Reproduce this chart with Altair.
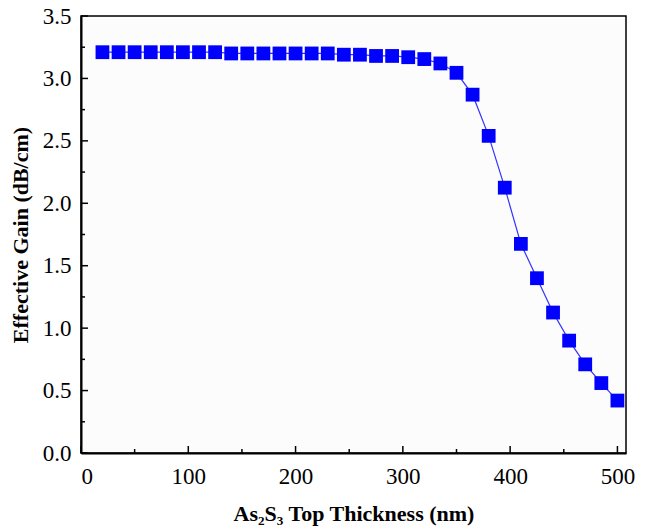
import altair as alt
import pandas as pd

# As2S3 top-layer thickness (nm) and the resulting effective gain (dB/cm)
thickness = [20, 35, 50, 65, 80, 95, 110, 125, 140, 155, 170, 185, 200,
             215, 230, 245, 260, 275, 290, 305, 320, 335, 350, 365, 380,
             395, 410, 425, 440, 455, 470, 485, 500]
gain = [3.21, 3.21, 3.21, 3.21, 3.21, 3.21, 3.21, 3.21, 3.20, 3.20, 3.20, 3.20, 3.20,
        3.20, 3.20, 3.19, 3.19, 3.18, 3.18, 3.17, 3.155, 3.12, 3.045, 2.87, 2.54,
        2.125, 1.675, 1.40, 1.125, 0.90, 0.71, 0.56, 0.42]

x_major = [0, 100, 200, 300, 400, 500]
x_minor = [50, 150, 250, 350, 450]
y_major = [0.0, 0.5, 1.0, 1.5, 2.0, 2.5, 3.0, 3.5]
y_minor = [0.25, 0.75, 1.25, 1.75, 2.25, 2.75, 3.25]

W, H = 545, 437
FONT = "Liberation Serif"
BLUE = "#0000ff"

df = pd.DataFrame({"t": thickness, "g": gain})
xs = alt.Scale(domain=[0, 508], nice=False, zero=False)
ys = alt.Scale(domain=[0, 3.5], nice=False)

x_axis = alt.Axis(values=x_major, format="d", ticks=False, grid=False,
                  labelFont=FONT, labelFontSize=23, labelColor="black",
                  labelPadding=12, domainColor="black", domainWidth=2,
                  title="As₂S₃ Top Thickness (nm)", titleFont=FONT,
                  titleFontSize=22, titleFontWeight="bold", titleColor="black",
                  titlePadding=15)
y_axis = alt.Axis(values=y_major, format=".1f", ticks=False, grid=False,
                  labelFont=FONT, labelFontSize=23, labelColor="black",
                  labelPadding=10, domainColor="black", domainWidth=2,
                  title="Effective Gain (dB/cm)", titleFont=FONT,
                  titleFontSize=22, titleFontWeight="bold", titleColor="black",
                  titlePadding=10)

base = alt.Chart(df)
line = base.mark_line(color="#3333ff", strokeWidth=1.2).encode(
    x=alt.X("t:Q", scale=xs, axis=x_axis),
    y=alt.Y("g:Q", scale=ys, axis=y_axis),
)
points = base.mark_square(color=BLUE, size=190, opacity=1).encode(
    x=alt.X("t:Q", scale=xs),
    y=alt.Y("g:Q", scale=ys),
)

# inward-pointing tick marks on the bottom and left axes
def xticks(vals, length):
    return alt.Chart(pd.DataFrame({"v": vals})).mark_rule(
        color="black", strokeWidth=1.5).encode(
        x=alt.X("v:Q", scale=xs), y=alt.value(H), y2=alt.value(H - length))

def yticks(vals, length):
    return alt.Chart(pd.DataFrame({"v": vals})).mark_rule(
        color="black", strokeWidth=1.5).encode(
        y=alt.Y("v:Q", scale=ys), x=alt.value(0), x2=alt.value(length))

chart = alt.layer(
    line, points,
    xticks(x_major, 7), xticks(x_minor, 4),
    yticks(y_major, 7), yticks(y_minor, 4),
).properties(
    width=W, height=H,
    autosize=alt.AutoSizeParams(type="none"),
    padding={"left": 81, "top": 16, "right": 20, "bottom": 77},
    background="white",
).configure_view(
    stroke="black", strokeWidth=1.5, fill="#fcfcfc"
)

chart.save("out.html", embed_options={"renderer": "svg", "actions": False})
